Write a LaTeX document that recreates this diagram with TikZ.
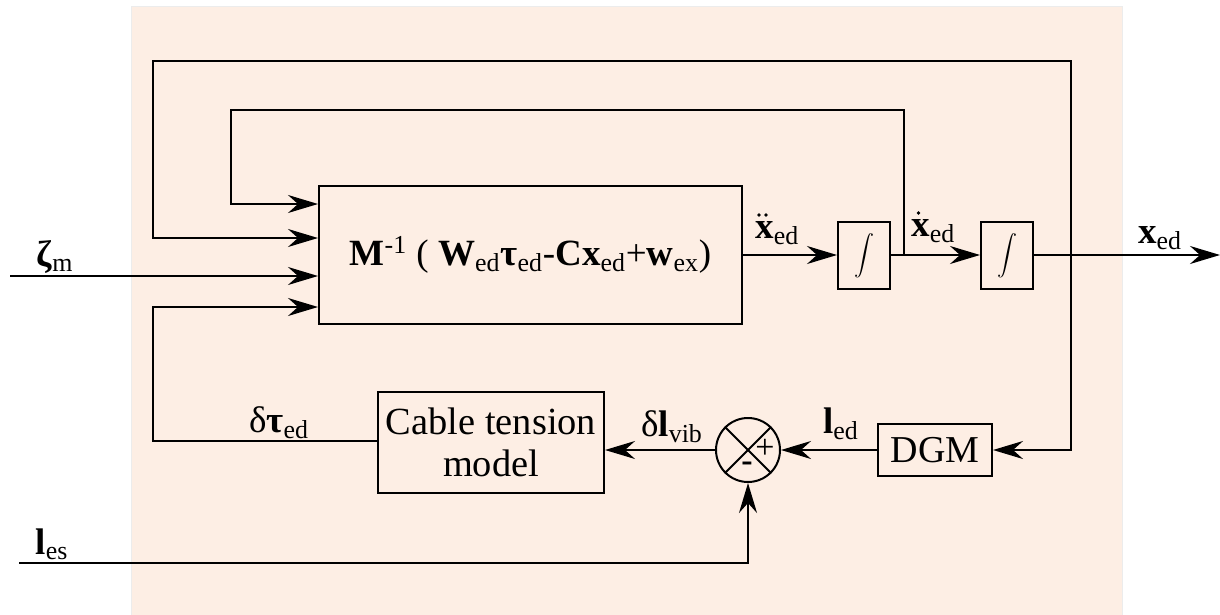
\documentclass[tikz,border=0pt]{standalone}
\usepackage{fontspec}
\setmainfont{Liberation Serif}
\usetikzlibrary{arrows.meta}
\definecolor{bgc}{RGB}{253,238,228}
\begin{document}
\begin{tikzpicture}[x=0.5pt,y=-0.5pt,
  every node/.style={font=\fontsize{18.5}{22}\selectfont, inner sep=0pt},
  blk/.style={draw, line width=1pt},
  conn/.style={line width=1pt, -{Stealth[length=15pt,width=9pt,inset=5pt]}},
  wire/.style={line width=1pt},
  lbl/.style={font=\fontsize{18.5}{22}\selectfont},
  intg/.style={blk, minimum width=26pt, minimum height=33.5pt, font=\fontsize{9.5}{11}\selectfont},
  dotc/.style={fill=black}]
\useasboundingbox (0,0) rectangle (1220,615);
\fill[bgc, draw=gray!15] (131,6) rectangle (1122,616);

% blocks
\node[blk, minimum width=211.5pt, minimum height=69pt] (main) at (530.5,255)
  {\textbf{M}\textsuperscript{-1} ( \textbf{W}\textsubscript{ed}\textbf{τ}\textsubscript{ed}-\textbf{Cx}\textsubscript{ed}+\textbf{w}\textsubscript{ex})};
\node[intg] (int1) at (864,255.5) {$\displaystyle\int$};
\node[intg] (int2) at (1007,255.5) {$\displaystyle\int$};
\node[blk, minimum width=113pt, minimum height=50.5pt, align=center, font=\fontsize{19.2}{22}\selectfont] (cable) at (491,442.5)
  {Cable tension\\[-1pt]model};
\node[draw, line width=1pt, circle, minimum size=32pt] (sum) at (748,450) {};
\node[blk, minimum width=57pt, minimum height=26pt, font=\fontsize{19}{22}\selectfont] (dgm) at (935,450) {DGM};

\draw[wire] (sum.north east) -- (sum.south west) (sum.north west) -- (sum.south east);
\node[font=\fontsize{17}{20}\selectfont] (plus) at ([shift={(17,-1)}]sum.center) {+};
\node[font=\fontsize{17}{20}\selectfont] (minus) at ([shift={(-1,17)}]sum.center) {\textbf{-}};

% coordinates
\coordinate (in1) at (main.west |- 0,204);
\coordinate (in2) at (main.west |- 0,238);
\coordinate (in3) at (main.west |- 0,276);
\coordinate (in4) at (main.west |- 0,307);
\coordinate (j1) at (904,255);
\coordinate (j2) at (1071,255);
\coordinate (out) at (1220,255);
\coordinate (zin) at (10,276);
\coordinate (lin) at (19,563);

% connectors
\draw[conn] (main.east |- j1) -- (int1.west |- j1);
\draw[conn] (int1.east |- j1) -- (int2.west |- j1);
\draw[conn] (int2.east |- j1) -- (out);
\draw[conn] (j1) -- (904,110) -| (231,204) -- (in1);
\draw[conn] (j2) -- (1071,61) -| (153,238) -- (in2);
\draw[conn] (j2) |- (dgm.east);
\draw[conn] (zin) -- (in3);
\draw[conn] (cable.west |- 0,441) -| (153,307) -- (in4);
\draw[conn] (dgm.west) -- (sum.east);
\draw[conn] (sum.west) -- (cable.east |- sum.west);
\draw[conn] (lin) -| (sum.south);

% labels
\node[lbl] (lzeta) at (55,257) {\textbf{ζ}\textsubscript{m}};
\node[lbl] (ldtau) at (279,423) {δ\textbf{τ}\textsubscript{ed}};
\node[lbl] (les) at (52,544) {\textbf{l}\textsubscript{es}};
\node[lbl, anchor=base west] (lxdd) at (755,238) {\textbf{x}\textsubscript{ed}};
\fill[dotc] ([shift={(4,-23)}]lxdd.base west) circle (1.9);
\fill[dotc] ([shift={(11,-23)}]lxdd.base west) circle (1.9);
\node[lbl, anchor=base west] (lxd) at (911,236) {\textbf{x}\textsubscript{ed}};
\fill[dotc] ([shift={(7.5,-23)}]lxd.base west) circle (1.9);
\node[lbl] (lx) at (1160,238) {\textbf{x}\textsubscript{ed}};
\node[lbl] (ldl) at (672,427) {δ\textbf{l}\textsubscript{vib}};
\node[lbl] (led) at (841,424) {\textbf{l}\textsubscript{ed}};
\end{tikzpicture}
\end{document}
